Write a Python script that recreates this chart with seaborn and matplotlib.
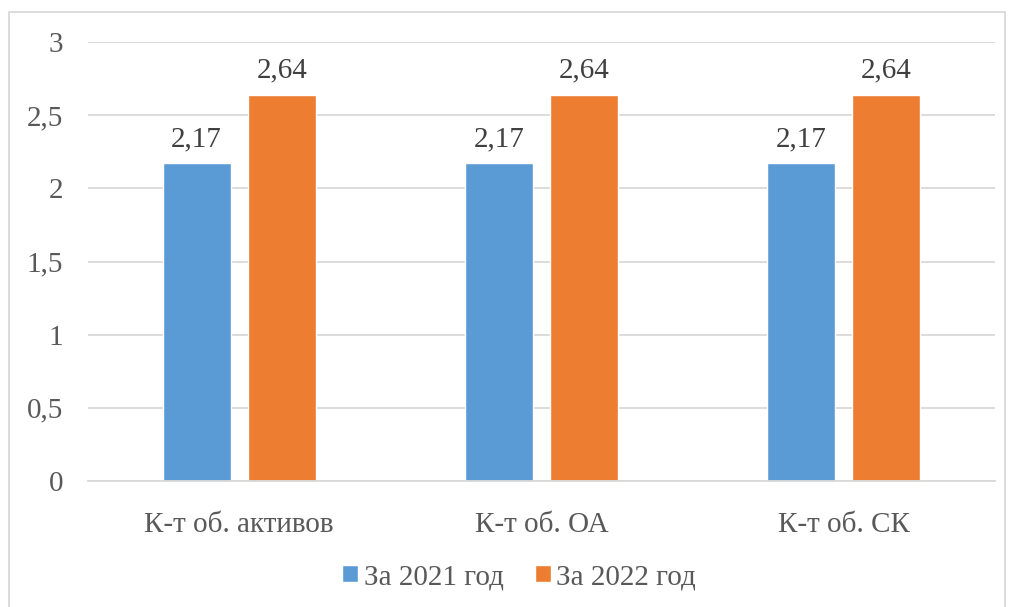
import matplotlib
matplotlib.use("Agg")
import matplotlib.pyplot as plt
import seaborn as sns
import pandas as pd
from matplotlib.patches import Rectangle, Patch

categories = ["К-т об. активов", "К-т об. ОА", "К-т об. СК"]
series_names = ["За 2021 год", "За 2022 год"]
values_2021 = [2.17, 2.17, 2.17]
values_2022 = [2.64, 2.64, 2.64]
y_ticks = [0, 0.5, 1, 1.5, 2, 2.5, 3]
y_tick_labels = ["0", "0,5", "1", "1,5", "2", "2,5", "3"]
colors = ["#5B9BD5", "#ED7D31"]

df = pd.DataFrame({
    "cat": categories * 2,
    "series": [series_names[0]] * 3 + [series_names[1]] * 3,
    "val": values_2021 + values_2022,
})

sns.set_theme(style="white")
plt.rcParams["font.family"] = ["Liberation Serif", "DejaVu Serif"]

fig = plt.figure(figsize=(10.1, 6.07), dpi=100)
ax = fig.add_axes([88 / 1010, 1 - 481 / 607, (995 - 88) / 1010, (481 - 42) / 607])

sns.barplot(data=df, x="cat", y="val", hue="series", palette=colors,
            width=0.563, gap=0.2, ax=ax, legend=False, saturation=1)

ax.set_ylim(0, 3)
ax.set_xlim(-0.5, 2.5)
ax.set_yticks(y_ticks)
ax.set_yticklabels(y_tick_labels)
ax.set_xlabel("")
ax.set_ylabel("")
ax.yaxis.grid(True, color="#D9D9D9", linewidth=1.3)
ax.set_axisbelow(True)
for s in ["top", "right", "left"]:
    ax.spines[s].set_visible(False)
ax.spines["bottom"].set_color("#D9D9D9")
ax.spines["bottom"].set_linewidth(1.3)
ax.tick_params(axis="y", length=0, pad=18, labelsize=21, labelcolor="#595959")
ax.tick_params(axis="x", length=0, pad=22, labelsize=21, labelcolor="#595959")

for cont in ax.containers:
    labels = [f"{v:.2f}".replace(".", ",") for v in cont.datavalues]
    ax.bar_label(cont, labels=labels, padding=8, fontsize=21, color="#404040")

handles = [Patch(facecolor=c, label=n) for c, n in zip(colors, series_names)]
fig.legend(handles=handles, loc="center", bbox_to_anchor=(0.514, 1 - 577 / 607),
           ncol=2, frameon=False, fontsize=21, labelcolor="#595959",
           handlelength=0.55, handleheight=0.55, handletextpad=0.2, columnspacing=1.05)

fig.patches.append(Rectangle((9 / 1010, -0.01), (1005 - 9) / 1010, 1 - 12 / 607 + 0.01,
                             transform=fig.transFigure, fill=False,
                             edgecolor="#D9D9D9", linewidth=1.3))

fig.savefig("out.png", dpi=100, facecolor="white")
